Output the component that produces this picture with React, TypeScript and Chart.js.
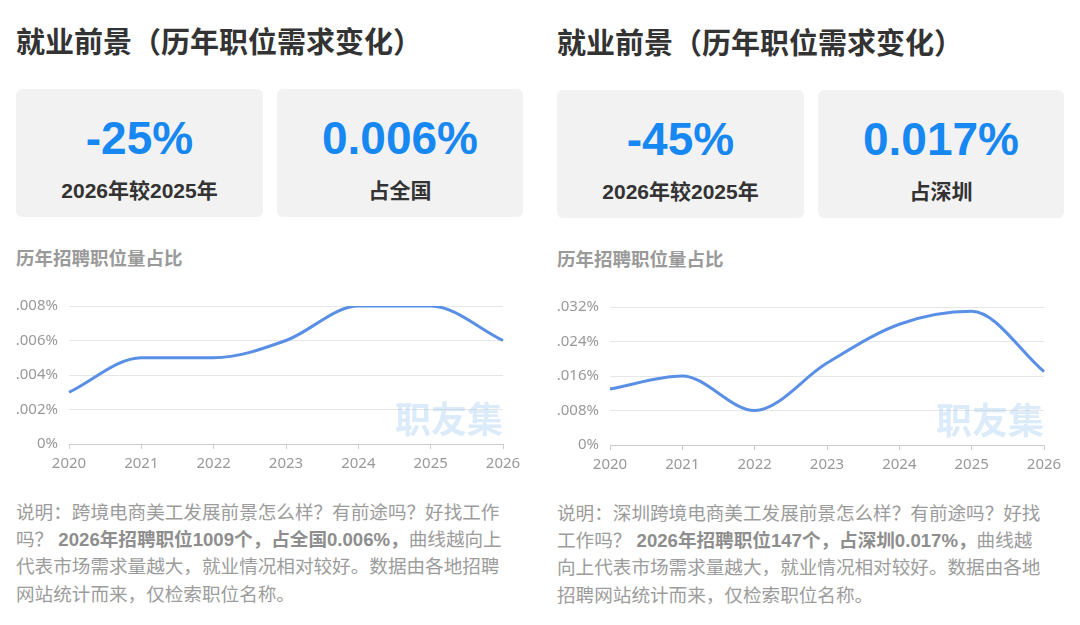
import React, { useEffect, useRef } from 'react';
import { Chart, registerables } from 'chart.js';

Chart.register(...registerables);

// ---- data ----
const years = ['2020', '2021', '2022', '2023', '2024', '2025', '2026'];
const nationalShare = [0.003, 0.005, 0.005, 0.006, 0.008, 0.008, 0.006];
const shenzhenShare = [0.013, 0.016, 0.008, 0.019, 0.028, 0.031, 0.017];
const nationalTicks = [0, 0.002, 0.004, 0.006, 0.008];
const shenzhenTicks = [0, 0.008, 0.016, 0.024, 0.032];

const pageTitle = '就业前景（历年职位需求变化）';
const chartSubtitle = '历年招聘职位量占比';
const watermark = '职友集';

const leftCards = [
  { value: '-25%', label: '2026年较2025年' },
  { value: '0.006%', label: '占全国' },
];
const rightCards = [
  { value: '-45%', label: '2026年较2025年' },
  { value: '0.017%', label: '占深圳' },
];

const leftNote = [
  ['说明：跨境电商美工发展前景怎么样？有前途吗？好找工作'],
  ['吗？ ', '2026年招聘职位1009个，占全国0.006%，', '曲线越向上'],
  ['代表市场需求量越大，就业情况相对较好。数据由各地招聘'],
  ['网站统计而来，仅检索职位名称。'],
];
const rightNote = [
  ['说明：深圳跨境电商美工发展前景怎么样？有前途吗？好找'],
  ['工作吗？ ', '2026年招聘职位147个，占深圳0.017%，', '曲线越'],
  ['向上代表市场需求量越大，就业情况相对较好。数据由各地'],
  ['招聘网站统计而来，仅检索职位名称。'],
];

const CJK = '"Noto Sans CJK SC", "Noto Sans", sans-serif';
const NUM = '"Liberation Sans", Arial, "Noto Sans CJK SC", sans-serif';

function fmtTick(v: number): string {
  if (Math.abs(v) < 1e-12) return '0%';
  const s = v.toFixed(3);
  return '.' + s.split('.')[1] + '%';
}

const watermarkPlugin = {
  id: 'wm',
  beforeDatasetsDraw(chart: any) {
    const { ctx, chartArea } = chart;
    ctx.save();
    ctx.font = `bold 36px ${CJK}`;
    ctx.fillStyle = 'rgba(150, 195, 240, 0.34)';
    ctx.textAlign = 'right';
    ctx.textBaseline = 'bottom';
    ctx.fillText(watermark, chartArea.right, chartArea.bottom - 7);
    ctx.restore();
  },
};

function LineChart(props: {
  values: number[];
  ticks: number[];
  left: number;
  top: number;
  width: number;
  height: number;
}) {
  const ref = useRef<HTMLCanvasElement | null>(null);
  useEffect(() => {
    if (!ref.current) return;
    const tickVals = props.ticks;
    const chart = new Chart(ref.current, {
      type: 'line',
      data: {
        labels: years,
        datasets: [
          {
            data: props.values,
            borderColor: '#5a8fe6',
            borderWidth: 3,
            pointRadius: 0,
            pointHoverRadius: 0,
            fill: false,
            cubicInterpolationMode: 'monotone',
          },
        ],
      },
      options: {
        responsive: false,
        animation: false,
        devicePixelRatio: 1,
        layout: { padding: { top: 16, right: 30, left: 0, bottom: 0 } },
        plugins: { legend: { display: false }, tooltip: { enabled: false } },
        scales: {
          x: {
            type: 'category',
            offset: false,
            grid: { drawOnChartArea: false, drawTicks: true, tickLength: 5, color: '#cccccc' },
            border: { display: true, color: '#cccccc' },
            ticks: {
              color: '#999999',
              font: { size: 15, family: '"Noto Sans", sans-serif' },
              padding: 6,
              maxRotation: 0,
              autoSkip: false,
            },
            afterFit(scale: any) {
              scale.height = 30;
            },
          },
          y: {
            min: tickVals[0],
            max: tickVals[tickVals.length - 1],
            afterBuildTicks(scale: any) {
              scale.ticks = tickVals.map((v) => ({ value: v }));
            },
            grid: { color: '#e6e6e6', drawTicks: false, lineWidth: 1 },
            border: { display: false },
            ticks: {
              color: '#999999',
              font: { size: 15, family: '"Noto Sans", sans-serif' },
              padding: 11,
              callback: (v: any) => fmtTick(Number(v)),
            },
            afterFit(scale: any) {
              scale.width = 64;
            },
          },
        },
      },
      plugins: [watermarkPlugin],
    } as any);
    return () => chart.destroy();
  }, []);
  return (
    <canvas
      ref={ref}
      width={props.width}
      height={props.height}
      style={{
        position: 'absolute',
        left: props.left,
        top: props.top,
        width: props.width,
        height: props.height,
      }}
    />
  );
}

function Card(props: { x: number; y: number; w: number; h: number; value: string; label: string }) {
  return (
    <div
      style={{
        position: 'absolute',
        left: props.x,
        top: props.y,
        width: props.w,
        height: props.h,
        background: '#f2f2f2',
        borderRadius: 6,
      }}
    >
      <div
        style={{
          position: 'absolute',
          left: 0,
          top: 26,
          width: '100%',
          textAlign: 'center',
          font: `bold 46px/46px ${NUM}`,
          color: '#1787f2',
          whiteSpace: 'nowrap',
        }}
      >
        {props.value}
      </div>
      <div
        style={{
          position: 'absolute',
          left: 0,
          top: 90,
          width: '100%',
          textAlign: 'center',
          font: `bold 21px/24px ${NUM}`,
          color: '#333333',
          whiteSpace: 'nowrap',
        }}
      >
        {props.label}
      </div>
    </div>
  );
}

function Note(props: { x: number; y: number; lines: string[][] }) {
  return (
    <div
      style={{
        position: 'absolute',
        left: props.x,
        top: props.y,
        font: `18.6px/27.2px ${NUM}`,
        color: '#9c9c9c',
        whiteSpace: 'nowrap',
      }}
    >
      {props.lines.map((parts, i) => (
        <div key={i}>
          {parts.map((p, j) =>
            j === 1 ? (
              <b key={j} style={{ color: '#8e8e8e' }}>
                {p}
              </b>
            ) : (
              <span key={j}>{p}</span>
            )
          )}
        </div>
      ))}
    </div>
  );
}

function Panel(props: {
  x: number;
  dy: number;
  cards: { value: string; label: string }[];
  values: number[];
  ticks: number[];
  note: string[][];
}) {
  const { x, dy } = props;
  return (
    <>
      <div
        style={{
          position: 'absolute',
          left: x,
          top: 24 + dy,
          font: `bold 29px/32px ${CJK}`,
          color: '#333333',
          whiteSpace: 'nowrap',
        }}
      >
        {pageTitle}
      </div>
      <Card x={x} y={89 + dy} w={247} h={128} value={props.cards[0].value} label={props.cards[0].label} />
      <Card x={x + 261} y={89 + dy} w={246} h={128} value={props.cards[1].value} label={props.cards[1].label} />
      <div
        style={{
          position: 'absolute',
          left: x,
          top: 246 + dy,
          font: `bold 18.5px/22px ${CJK}`,
          color: '#9a9a9a',
          whiteSpace: 'nowrap',
        }}
      >
        {chartSubtitle}
      </div>
      <LineChart values={props.values} ticks={props.ticks} left={x - 11} top={286 + dy} width={528} height={188} />
      <Note x={x} y={499 + dy} lines={props.note} />
    </>
  );
}

export default function App() {
  return (
    <div
      style={{
        position: 'fixed',
        left: 0,
        top: 0,
        width: 1080,
        height: 625,
        background: '#ffffff',
        overflow: 'hidden',
      }}
    >
      <Panel x={16} dy={0} cards={leftCards} values={nationalShare} ticks={nationalTicks} note={leftNote} />
      <Panel x={557} dy={1} cards={rightCards} values={shenzhenShare} ticks={shenzhenTicks} note={rightNote} />
    </div>
  );
}
